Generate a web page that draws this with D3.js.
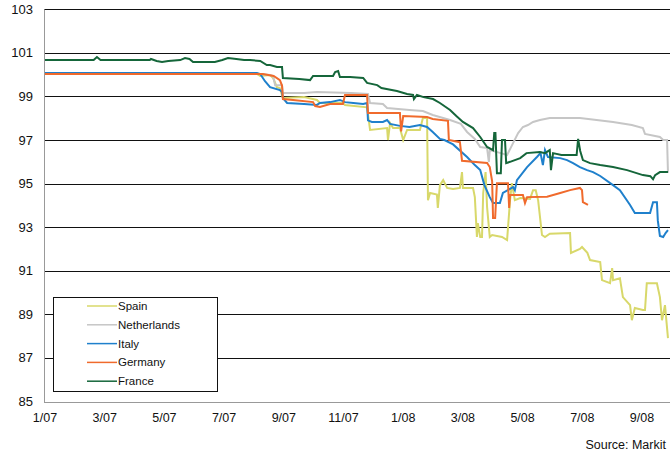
<!DOCTYPE html>
<html><head><meta charset="utf-8">
<script src="https://cdn.jsdelivr.net/npm/d3@7"></script>
<style>
body{margin:0;background:#fff;}
text{font-family:"Liberation Sans",Arial,sans-serif;}
</style></head>
<body><svg id="c" width="670" height="459"></svg>
<script>
// x = months since Jan 2007, y = price
const tickLabels = ["1/07","3/07","5/07","7/07","9/07","11/07","1/08","3/08","5/08","7/08","9/08"];
const tickPos = [0,2,4,6,8,10,12,14,16,18,20];
const yTicks = [85,87,89,91,93,95,97,99,101,103];
const seriesNames = ["Spain","Netherlands","Italy","Germany","France"];
const seriesColors = ["#d8d86a","#c6c6c6","#1f80cc","#f06a2c","#15663a"];

const spain = [[0,100.03],[7.10,100.03],[7.21,99.94],[7.54,99.98],[7.64,99.85],[7.77,99.43],[7.87,99.38],[7.97,98.93],[8.68,98.97],[9.11,98.84],[9.21,98.70],[9.98,98.70],[10.05,98.61],[10.79,98.50],[10.89,97.46],[11.46,97.55],[11.49,97.00],[11.56,97.78],[11.66,97.55],[11.89,97.55],[12.00,97.00],[12.13,97.46],[12.56,97.46],[12.66,98.01],[12.80,98.01],[12.83,94.24],[12.90,94.57],[13.13,94.50],[13.16,93.88],[13.23,94.93],[13.34,95.16],[13.47,94.80],[13.67,94.75],[13.90,94.80],[13.97,95.53],[14.00,94.80],[14.34,94.80],[14.40,94.38],[14.47,92.55],[14.50,93.19],[14.58,92.55],[14.64,92.55],[14.68,94.57],[14.76,95.53],[14.81,93.92],[14.90,92.55],[14.98,92.64],[15.31,92.55],[15.48,92.41],[15.58,94.24],[15.64,95.02],[15.74,94.24],[15.92,94.34],[16.25,94.30],[16.35,94.70],[16.44,94.70],[16.52,94.24],[16.65,92.64],[16.75,92.55],[16.91,92.70],[17.59,92.73],[17.62,91.82],[17.92,92.00],[17.99,92.09],[18.17,91.82],[18.26,91.49],[18.60,91.40],[18.66,90.57],[18.93,90.43],[19.00,91.12],[19.03,90.57],[19.26,90.66],[19.36,89.79],[19.60,89.42],[19.66,88.73],[19.76,89.29],[20.03,89.20],[20.10,89.20],[20.16,90.43],[20.50,90.43],[20.60,89.79],[20.67,88.73],[20.77,89.42],[20.87,87.91]];

const netherlands = [[0,100.03],[7.21,100.03],[7.54,99.98],[7.64,99.94],[7.71,99.52],[7.94,99.52],[7.97,99.16],[8.68,99.16],[9.11,99.20],[10.25,99.16],[10.82,99.11],[10.89,98.70],[11.32,98.65],[11.46,98.47],[12.21,98.38],[12.66,98.33],[12.99,98.15],[13.57,97.92],[13.93,97.74],[14.14,97.37],[14.40,97.05],[14.58,96.68],[14.81,96.63],[14.87,95.99],[14.90,96.54],[15.27,96.40],[15.48,96.31],[15.68,96.86],[15.85,97.32],[16.01,97.60],[16.18,97.69],[16.35,97.83],[16.58,97.92],[16.91,98.01],[17.92,98.01],[18.48,97.92],[19.03,97.83],[19.66,97.69],[20.03,97.55],[20.10,97.28],[20.60,97.14],[20.71,97.00],[20.84,97.00],[20.87,95.5]];

const italy = [[0,100.08],[7.10,100.08],[7.21,100.03],[7.37,99.70],[7.54,99.43],[7.87,99.29],[7.94,99.20],[7.97,98.93],[8.11,98.70],[8.68,98.65],[9.11,98.61],[9.21,98.70],[9.55,98.74],[9.88,98.84],[10.05,98.74],[10.33,98.70],[10.66,98.65],[10.79,98.70],[10.82,97.90],[10.95,97.83],[11.32,97.83],[11.46,97.92],[11.56,97.74],[11.89,97.65],[12.21,97.60],[12.56,97.69],[12.80,97.60],[12.99,97.37],[13.23,97.05],[13.38,97.00],[13.67,96.80],[14.14,96.22],[14.40,95.85],[14.58,95.62],[14.72,94.93],[14.90,94.38],[15.01,94.11],[15.24,94.11],[15.34,94.57],[15.68,94.84],[15.74,94.70],[15.81,95.16],[16.15,95.76],[16.48,96.22],[16.60,96.40],[16.68,95.85],[16.75,96.54],[16.85,96.22],[17.26,96.17],[17.49,96.08],[17.69,95.94],[17.92,95.76],[18.16,95.62],[18.36,95.53],[18.60,95.35],[19.03,94.93],[19.26,94.70],[19.60,94.02],[19.76,93.65],[20.27,93.65],[20.37,94.15],[20.50,94.15],[20.53,93.30],[20.60,92.60],[20.71,92.55],[20.79,92.73],[20.87,92.87]];

const germany = [[0,100.03],[7.30,100.03],[7.66,99.94],[7.87,99.75],[7.94,99.5],[7.97,98.88],[8.31,98.84],[8.98,98.74],[9.05,98.56],[9.21,98.52],[9.55,98.65],[9.98,98.65],[10.05,99.07],[10.79,99.07],[10.82,98.24],[11.89,98.24],[11.93,97.40],[12.00,98.10],[12.80,98.06],[12.99,97.97],[13.50,97.88],[13.53,97.00],[13.90,96.90],[13.97,96.05],[14.81,95.95],[14.90,95.76],[14.98,95.10],[15.01,93.42],[15.08,93.42],[15.14,95.02],[15.51,95.02],[15.55,93.88],[15.58,94.48],[16.01,94.48],[16.08,94.11],[16.15,94.38],[16.82,94.40],[17.26,94.57],[17.59,94.70],[17.92,94.80],[17.99,94.70],[18.02,94.15],[18.19,94.02]];

const france = [[0,100.67],[1.63,100.67],[1.74,100.81],[1.86,100.67],[3.51,100.67],[3.55,100.72],[3.74,100.63],[3.92,100.58],[4.13,100.63],[4.53,100.67],[4.69,100.76],[4.84,100.72],[4.96,100.58],[5.69,100.58],[5.94,100.67],[6.13,100.76],[6.41,100.72],[6.67,100.67],[6.87,100.67],[7.21,100.63],[7.43,100.44],[7.54,100.44],[7.77,100.35],[7.94,100.35],[7.97,99.85],[8.52,99.80],[8.88,99.75],[8.98,99.94],[9.65,99.94],[9.72,100.12],[9.82,100.17],[9.88,99.89],[10.22,99.89],[10.66,99.85],[10.79,99.62],[11.13,99.52],[11.27,99.39],[11.79,99.25],[12.13,99.11],[12.33,99.07],[12.36,98.88],[12.46,99.07],[12.68,98.97],[13.00,98.88],[13.23,98.70],[13.57,98.38],[13.78,98.10],[14.00,97.83],[14.34,97.55],[14.58,97.14],[14.81,96.68],[15.01,96.54],[15.05,97.32],[15.09,97.32],[15.14,95.48],[15.27,95.48],[15.31,97.00],[15.41,97.00],[15.45,95.94],[15.58,96.00],[15.92,96.17],[16.13,96.40],[16.58,96.45],[16.75,96.40],[16.91,96.54],[16.95,95.62],[17.02,96.40],[17.30,96.31],[17.81,96.31],[17.86,97.05],[17.93,96.50],[18.02,96.08],[18.26,95.94],[18.60,95.85],[19.03,95.76],[19.50,95.62],[20.03,95.39],[20.28,95.34],[20.37,95.20],[20.44,95.39],[20.60,95.53],[20.87,95.53]];

const seriesData = [spain, netherlands, italy, germany, france];

const svg = d3.select("#c");
const pL = 44, pR = 670, pT = 9.3, pB = 401.5;
const x = d3.scaleLinear().domain([0,20]).range([45,642]);
const y = d3.scaleLinear().domain([85,103]).range([pB, pT]);

// gridlines
svg.append("g").selectAll("line").data(yTicks.filter(d=>d>85)).join("line")
  .attr("x1",pL).attr("x2",pR)
  .attr("y1",d=>Math.round(y(d))+0.5).attr("y2",d=>Math.round(y(d))+0.5)
  .attr("stroke","#111").attr("stroke-width",1);

// axis lines
svg.append("line").attr("x1",pL+0.5).attr("x2",pL+0.5).attr("y1",pT).attr("y2",Math.round(pB)+0.5)
  .attr("stroke","#999");
svg.append("line").attr("x1",pL).attr("x2",pR).attr("y1",Math.round(pB)+0.5).attr("y2",Math.round(pB)+0.5)
  .attr("stroke","#999");

// y labels
svg.append("g").selectAll("text").data(yTicks).join("text")
  .attr("x",33).attr("y",d=>y(d)).attr("dy","0.35em")
  .attr("text-anchor","end").attr("font-size",13).attr("fill","#111")
  .text(d=>d);

// x labels
svg.append("g").selectAll("text").data(tickPos).join("text")
  .attr("x",d=>x(d)).attr("y",422)
  .attr("text-anchor","middle").attr("font-size",12.5).attr("fill","#111")
  .text((d,i)=>tickLabels[i]);

// lines
const line = d3.line().x(d=>x(d[0])).y(d=>y(d[1])).curve(d3.curveLinear);
seriesData.forEach((s,i)=>{
  svg.append("path").datum(s).attr("d",line).attr("fill","none")
    .attr("stroke",seriesColors[i]).attr("stroke-width",2).attr("stroke-linejoin","miter");
});

// legend
const lg = svg.append("g");
lg.append("rect").attr("x",53.5).attr("y",297.5).attr("width",164).attr("height",94)
  .attr("fill","#fff").attr("stroke","#111");
seriesNames.forEach((n,i)=>{
  const yy = 306 + i*18.8;
  lg.append("line").attr("x1",87).attr("x2",117).attr("y1",yy).attr("y2",yy)
    .attr("stroke",seriesColors[i]).attr("stroke-width",1.5);
  lg.append("text").attr("x",118).attr("y",yy).attr("dy","0.35em")
    .attr("font-size",11.5).attr("fill","#111").text(n);
});

svg.append("text").attr("x",666).attr("y",449).attr("text-anchor","end")
  .attr("font-size",12.5).attr("fill","#111").text("Source: Markit");
</script></body></html>
